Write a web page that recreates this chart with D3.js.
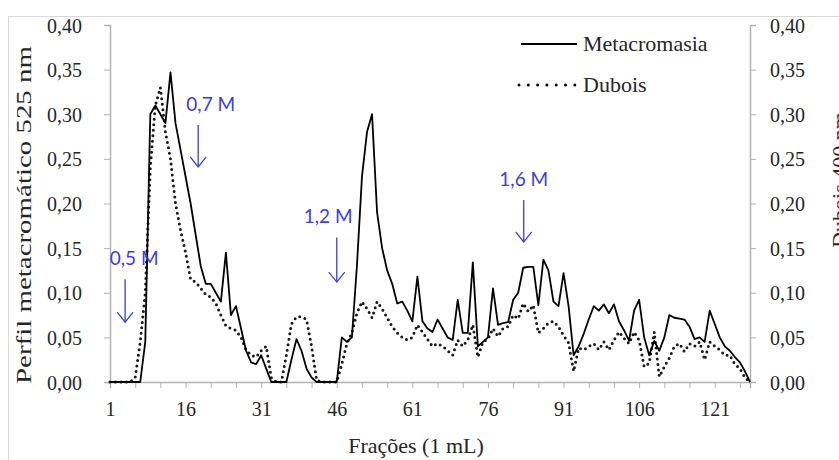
<!DOCTYPE html>
<html>
<head>
<meta charset="utf-8">
<script src="https://cdn.jsdelivr.net/npm/d3@7"></script>
<style>
  body { margin: 0; background: #fff; }
  svg { display: block; }
  .axis path, .axis line { stroke: #b3b3b3; }
  .axis text { font-family: "Liberation Serif", "Times New Roman", serif; font-size: 20px; fill: #262626; }
</style>
</head>
<body>
<div class="chart-container"></div>
<script>
// fractions 1..128
const fractions = d3.range(1, 129);

// Metacromasia (525 nm)
const metacromasia = [
  0, 0, 0, 0, 0, 0, 0,
  0.045, 0.30, 0.31, 0.30, 0.29, 0.347, 0.29,
  0.26, 0.23, 0.20, 0.165, 0.13, 0.11, 0.11,
  0.10, 0.09, 0.145, 0.075, 0.085, 0.06, 0.035,
  0.022, 0.02, 0.03, 0.015, 0, 0, 0,
  0, 0.025, 0.048, 0.035, 0.015, 0.005, 0,
  0, 0, 0, 0, 0.05, 0.045, 0.05,
  0.13, 0.23, 0.28, 0.30, 0.19, 0.15, 0.125,
  0.11, 0.088, 0.09, 0.08, 0.068, 0.118, 0.068,
  0.06, 0.056, 0.07, 0.06, 0.05, 0.047, 0.092,
  0.055, 0.055, 0.134, 0.04, 0.045, 0.05, 0.105,
  0.064, 0.066, 0.067, 0.092, 0.10, 0.128, 0.129,
  0.129, 0.086, 0.137, 0.125, 0.09, 0.085, 0.122,
  0.085, 0.03, 0.04, 0.054, 0.07, 0.085, 0.08,
  0.087, 0.077, 0.087, 0.068, 0.058, 0.046, 0.08,
  0.092, 0.05, 0.03, 0.046, 0.035, 0.05, 0.075,
  0.072, 0.071, 0.07, 0.062, 0.048, 0.05, 0.045,
  0.08, 0.065, 0.05, 0.04, 0.035, 0.028, 0.022,
  0.012, 0
];

// Dubois (400 nm)
const dubois = [
  0, 0, 0, 0, 0, 0.005, 0.045,
  0.10, 0.24, 0.31, 0.33, 0.28, 0.25, 0.20,
  0.17, 0.145, 0.115, 0.112, 0.105, 0.098, 0.095,
  0.088, 0.075, 0.063, 0.06, 0.058, 0.05, 0.036,
  0.03, 0.028, 0.035, 0.04, 0.005, 0, 0,
  0.03, 0.065, 0.073, 0.073, 0.07, 0.04, 0.002,
  0, 0, 0, 0, 0.02, 0.043, 0.055,
  0.077, 0.09, 0.082, 0.072, 0.09, 0.082, 0.072,
  0.062, 0.055, 0.05, 0.047, 0.05, 0.064, 0.056,
  0.048, 0.04, 0.043, 0.04, 0.035, 0.03, 0.047,
  0.04, 0.047, 0.064, 0.028, 0.045, 0.048, 0.06,
  0.051, 0.06, 0.062, 0.075, 0.071, 0.088, 0.079,
  0.086, 0.055, 0.06, 0.066, 0.068, 0.062, 0.052,
  0.044, 0.012, 0.038, 0.036, 0.04, 0.043, 0.036,
  0.045, 0.036, 0.047, 0.056, 0.049, 0.043, 0.056,
  0.047, 0.017, 0.021, 0.056, 0.006, 0.017, 0.027,
  0.04, 0.043, 0.034, 0.043, 0.04, 0.045, 0.025,
  0.045, 0.04, 0.036, 0.03, 0.03, 0.02, 0.015,
  0.005, 0
];

const yTicks = [0, 0.05, 0.10, 0.15, 0.20, 0.25, 0.30, 0.35, 0.40];
const xTicks = d3.range(1, 127, 5);
const xTickLabels = [1, 16, 31, 46, 61, 76, 91, 106, 121];

// NaCl step annotations: label, arrow fraction, arrow top / tip values, label fraction
const annLabels = ['0,5 M', '0,7 M', '1,2 M', '1,6 M'];
const annFrac = [4, 18.5, 46, 83.1];
const annTop = [0.115, 0.288, 0.162, 0.204];
const annTip = [0.067, 0.241, 0.112, 0.157];
const annTextFrac = [5.8, 21, 44.3, 83.1];

const seriesNames = ['Metacromasia', 'Dubois'];

const width = 839;
const height = 460;

const locale = d3.formatLocale({ decimal: ',', thousands: '.', grouping: [3], currency: ['', ''] });
const fmt = locale.format('.2f');

const x = d3.scaleLinear()
.domain([1, 128])
.range([110, 750]);

const y = d3.scaleLinear()
.domain([0, 0.4])
.range([382, 25]);

const svg = d3.select('.chart-container')
.append('svg')
.attr('width', width)
.attr('height', height);

// chart area border
svg.append('rect')
.attr('x', 8.5)
.attr('y', 16.5)
.attr('width', 900)
.attr('height', 500)
.attr('fill', 'none')
.attr('stroke', '#d9d9d9');

// axes
const yLeft = svg.append('g')
.attr('class', 'axis')
.attr('transform', `translate(${x.range()[0]},0)`)
.call(d3.axisLeft(y).tickValues(yTicks).tickFormat(fmt).tickSizeOuter(0).tickSize(6).tickPadding(22));

const yRight = svg.append('g')
.attr('class', 'axis')
.attr('transform', `translate(${x.range()[1]},0)`)
.call(d3.axisRight(y).tickValues(yTicks).tickFormat(fmt).tickSizeOuter(0).tickSize(6).tickPadding(14));

const xAxis = svg.append('g')
.attr('class', 'axis')
.attr('transform', `translate(0,${y(0)})`)
.call(d3.axisBottom(x).tickValues(xTicks).tickFormat(d => xTickLabels.includes(d) ? d : '').tickSizeOuter(0).tickSize(6).tickPadding(14));

svg.selectAll('.axis path').attr('stroke-width', 1.5);
yLeft.selectAll('text').attr('dy', '0.35em');
yRight.selectAll('text').attr('dy', '0.35em');

// axis titles
svg.append('text')
.attr('transform', 'translate(31,215) rotate(-90)')
.attr('text-anchor', 'middle')
.attr('textLength', 338)
.attr('lengthAdjust', 'spacingAndGlyphs')
.style('font-family', '"Liberation Serif", serif')
.style('font-size', '21px')
.style('fill', '#262626')
.text('Perfil metacromático 525 nm');

svg.append('text')
.attr('transform', 'translate(847,180) rotate(-90)')
.attr('text-anchor', 'middle')
.style('font-family', '"Liberation Serif", serif')
.style('font-size', '22px')
.style('fill', '#262626')
.text('Dubois 400 nm');

svg.append('text')
.attr('x', 416)
.attr('y', 453)
.attr('text-anchor', 'middle')
.style('font-family', '"Liberation Serif", serif')
.style('font-size', '22px')
.style('fill', '#262626')
.text('Frações (1 mL)');

// lines
const line = d3.line()
.x((d, i) => x(fractions[i]))
.y(d => y(d));

svg.append('path')
.datum(dubois)
.attr('d', line)
.attr('fill', 'none')
.attr('stroke', '#1a1a1a')
.attr('stroke-width', 3)
.attr('stroke-linecap', 'round')
.attr('stroke-linejoin', 'round')
.attr('stroke-dasharray', '0,5.5');

svg.append('path')
.datum(metacromasia)
.attr('d', line)
.attr('fill', 'none')
.attr('stroke', '#000')
.attr('stroke-width', 1.8)
.attr('stroke-linejoin', 'round');

// annotations
const blue = '#3d3de0';
annLabels.forEach((label, i) => {

  const ax = x(annFrac[i]);
  const y1 = y(annTop[i]);
  const y2 = y(annTip[i]);

  svg.append('line')
  .attr('x1', ax).attr('x2', ax)
  .attr('y1', y1).attr('y2', y2)
  .attr('stroke', blue)
  .attr('stroke-width', 1.3);

  svg.append('path')
  .attr('d', `M${ax - 8},${y2 - 10}L${ax},${y2}L${ax + 8},${y2 - 10}`)
  .attr('fill', 'none')
  .attr('stroke', blue)
  .attr('stroke-width', 1.3);

  svg.append('text')
  .attr('x', x(annTextFrac[i]))
  .attr('y', y1 - 14)
  .attr('text-anchor', 'middle')
  .style('font-family', 'Lato, "Open Sans", sans-serif')
  .style('font-size', '19px')
  .style('fill', blue)
  .text(label);
})

// legend
const legend = svg.append('g');

seriesNames.forEach((name, i) => {

  const ly = 44 + i * 41;

  legend.append('line')
  .attr('x1', i ? 519 : 521)
  .attr('x2', 577)
  .attr('y1', ly)
  .attr('y2', ly)
  .attr('stroke', '#000')
  .attr('stroke-width', i ? 3 : 1.8)
  .attr('stroke-linecap', i ? 'round' : 'butt')
  .attr('stroke-dasharray', i ? '0,9.3' : null);

  legend.append('text')
  .attr('x', 583)
  .attr('y', ly)
  .attr('dy', '0.33em')
  .style('font-family', '"Liberation Serif", serif')
  .style('font-size', '22px')
  .style('fill', '#262626')
  .text(name);
})
</script>
</body>
</html>
